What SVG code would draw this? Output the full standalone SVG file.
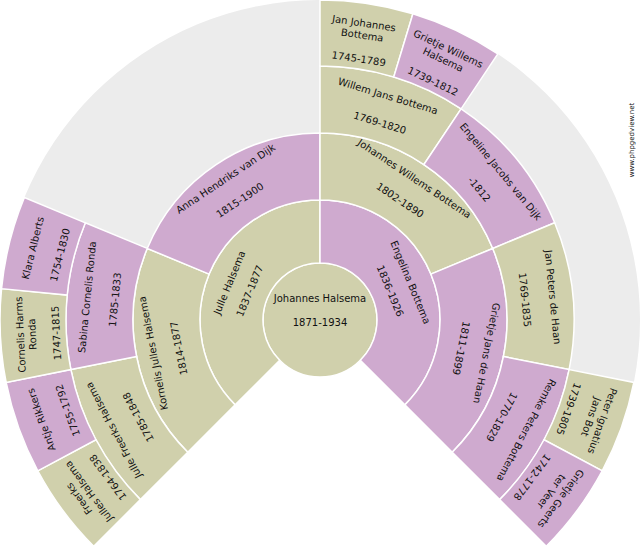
<svg xmlns="http://www.w3.org/2000/svg" xmlns:xlink="http://www.w3.org/1999/xlink" width="640" height="550" viewBox="0 0 640 550">
<style>
.m{fill:#d0d0ac}.f{fill:#cfaacf}
.s{stroke:#fff;stroke-width:1.5}
text{font-family:"DejaVu Sans",Verdana,sans-serif;font-size:10px;fill:#111;text-anchor:middle;dominant-baseline:central}
.w{font-size:7px}
</style>
<defs>
<path id="r1" d="M320,200 A120,120 0 0 1 404.85,404.85 L360.31,360.31 A57,57 0 0 0 320,263 Z"/>
<path id="r2" d="M320,133 A187,187 0 0 1 492.77,248.44 L430.87,274.08 A120,120 0 0 0 320,200 Z"/>
<path id="r3" d="M320,66 A254,254 0 0 1 461.12,108.80 L423.90,164.51 A187,187 0 0 0 320,133 Z"/>
<path id="r4" d="M320,0 A320,320 0 0 1 412.90,13.79 L393.74,76.95 A254,254 0 0 0 320,66 Z"/>
</defs>
<rect width="640" height="550" fill="#fff"/>
<path d="M320,320 L93.73,546.27 A320,320 0 1 1 546.27,546.27 Z" fill="#ececec"/>
<g id="connectors"></g>
<g id="n0"><circle cx="320" cy="320" r="57" class="m s"/><text x="320" y="298">Johannes Halsema</text><text x="320" y="322">1871-1934</text></g>
<g id="n1"><use xlink:href="#r1" class="m s" transform="rotate(-135 320 320)"/><g transform="rotate(-67.5 320 320)"><text x="320" y="222">Julle Halsema</text><text x="320" y="244">1837-1877</text></g></g>
<g id="n2"><use xlink:href="#r1" class="f s"/><g transform="rotate(67.5 320 320)"><text x="320" y="222">Engelina Bottema</text><text x="320" y="244">1836-1926</text></g></g>
<g id="n3"><use xlink:href="#r2" class="m s" transform="rotate(-135 320 320)"/><g transform="rotate(-101.25 320 320)"><text x="320" y="150">Kornelis Julles Halsema</text><text x="320" y="176">1814-1877</text></g></g>
<g id="n4"><use xlink:href="#r2" class="f s" transform="rotate(-67.5 320 320)"/><g transform="rotate(-33.75 320 320)"><text x="320" y="150">Anna Hendriks van Dijk</text><text x="320" y="176">1815-1900</text></g></g>
<g id="n5"><use xlink:href="#r2" class="m s"/><g transform="rotate(33.75 320 320)"><text x="320" y="150">Johannes Willems Bottema</text><text x="320" y="176">1802-1890</text></g></g>
<g id="n6"><use xlink:href="#r2" class="f s" transform="rotate(67.5 320 320)"/><g transform="rotate(101.25 320 320)"><text x="320" y="150">Grietje Jans de Haan</text><text x="320" y="176">1811-1899</text></g></g>
<g id="n7"><use xlink:href="#r3" class="m s" transform="rotate(-135 320 320)"/><g transform="rotate(-118.125 320 320)"><text x="320" y="86">Julle Freerks Halsema</text><text x="320" y="114">1785-1848</text></g></g>
<g id="n8"><use xlink:href="#r3" class="f s" transform="rotate(-101.25 320 320)"/><g transform="rotate(-84.375 320 320)"><text x="320" y="86">Sabina Cornelis Ronda</text><text x="320" y="114">1785-1833</text></g></g>
<g id="n9"><use xlink:href="#r3" class="m s"/><g transform="rotate(16.875 320 320)"><text x="320" y="86">Willem Jans Bottema</text><text x="320" y="114">1769-1820</text></g></g>
<g id="n10"><use xlink:href="#r3" class="f s" transform="rotate(33.75 320 320)"/><g transform="rotate(50.625 320 320)"><text x="320" y="86">Engeline Jacobs van Dijk</text><text x="320" y="114">-1812</text></g></g>
<g id="n11"><use xlink:href="#r3" class="m s" transform="rotate(67.5 320 320)"/><g transform="rotate(84.375 320 320)"><text x="320" y="86">Jan Peters de Haan</text><text x="320" y="114">1769-1835</text></g></g>
<g id="n12"><use xlink:href="#r3" class="f s" transform="rotate(101.25 320 320)"/><g transform="rotate(118.125 320 320)"><text x="320" y="86">Remke Peters Bottema</text><text x="320" y="114">1770-1829</text></g></g>
<g id="n13"><use xlink:href="#r4" class="m s" transform="rotate(-135 320 320)"/><g transform="rotate(-126.5625 320 320)"><text x="320" y="20">Freerks</text><text x="320" y="32">Julles Halsema</text><text x="320" y="56">1764-1838</text></g></g>
<g id="n14"><use xlink:href="#r4" class="f s" transform="rotate(-118.125 320 320)"/><g transform="rotate(-109.6875 320 320)"><text x="320" y="24">Antje Rikkers</text><text x="320" y="52">1755-1792</text></g></g>
<g id="n15"><use xlink:href="#r4" class="m s" transform="rotate(-101.25 320 320)"/><g transform="rotate(-92.8125 320 320)"><text x="320" y="20">Cornelis Harms</text><text x="320" y="32">Ronda</text><text x="320" y="56">1747-1815</text></g></g>
<g id="n16"><use xlink:href="#r4" class="f s" transform="rotate(-84.375 320 320)"/><g transform="rotate(-75.9375 320 320)"><text x="320" y="24">Klara Alberts</text><text x="320" y="52">1754-1830</text></g></g>
<g id="n17"><use xlink:href="#r4" class="m s"/><g transform="rotate(8.4375 320 320)"><text x="320" y="20">Jan Johannes</text><text x="320" y="32">Bottema</text><text x="320" y="56">1745-1789</text></g></g>
<g id="n18"><use xlink:href="#r4" class="f s" transform="rotate(16.875 320 320)"/><g transform="rotate(25.3125 320 320)"><text x="320" y="20">Grietje Willems</text><text x="320" y="32">Halsema</text><text x="320" y="56">1739-1812</text></g></g>
<g id="n19"><use xlink:href="#r4" class="m s" transform="rotate(101.25 320 320)"/><g transform="rotate(109.6875 320 320)"><text x="320" y="20">Peter Ignatius</text><text x="320" y="32">Jans Bot</text><text x="320" y="56">1739-1805</text></g></g>
<g id="n20"><use xlink:href="#r4" class="f s" transform="rotate(118.125 320 320)"/><g transform="rotate(126.5625 320 320)"><text x="320" y="20">Grietje Geerts</text><text x="320" y="32">ter Veer</text><text x="320" y="56">1742-1778</text></g></g>
<text class="w" x="632" y="140" transform="rotate(-90 632 140)">www.phpgedview.net</text>
</svg>
